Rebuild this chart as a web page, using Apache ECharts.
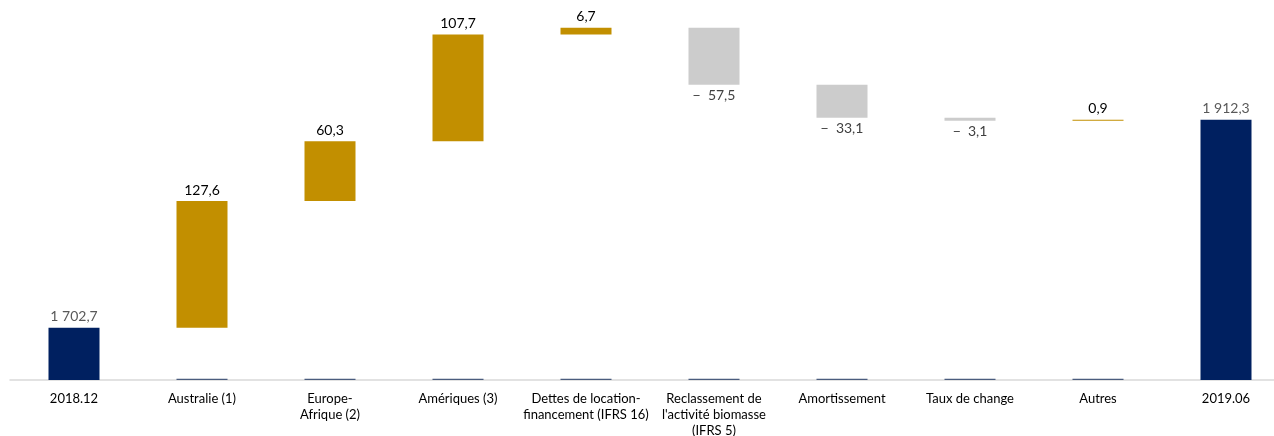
<!DOCTYPE html>
<html>
<head>
<meta charset="utf-8">
<script src="https://cdn.jsdelivr.net/npm/echarts@6/dist/echarts.min.js"></script>
<style>html,body{margin:0;padding:0;background:#fff;}#c{width:1274px;height:436px;}</style>
</head>
<body>
<div id="c"></div>
<script>
const categories = ['2018.12', 'Australie (1)', 'Europe-\nAfrique (2)', 'Amériques (3)',
  'Dettes de location-\nfinancement (IFRS 16)', "Reclassement de\nl'activité biomasse\n(IFRS 5)",
  'Amortissement', 'Taux de change', 'Autres', '2019.06'];
const startValue = 1702.7;
const endValue = 1912.3;
const changes = [127.6, 60.3, 107.7, 6.7, -57.5, -33.1, -3.1, 0.9];
const AXIS_MIN = 1650;
const AXIS_MAX = 2030;
const STUB = 1.3;

const NAVY = '#002060', GOLD = '#C28F00', GREY = '#CCCCCC';
const FONT = 'Lato';

function fmt(v) {
  const a = Math.abs(v);
  let s = a.toFixed(1).replace('.', ',');
  const parts = s.split(',');
  parts[0] = parts[0].replace(/\B(?=(\d{3})+(?!\d))/g, ' ');
  s = parts.join(',');
  return v < 0 ? '\u2212  ' + s : s;
}

const baseData = [], visData = [], stubData = [];
baseData.push(0);
visData.push({ value: startValue, itemStyle: { color: NAVY },
  label: { show: true, position: 'top', color: '#595959', formatter: () => fmt(startValue) } });
stubData.push('-');
let run = startValue;
changes.forEach(d => {
  const next = run + d;
  baseData.push(Math.min(run, next));
  visData.push({ value: Math.abs(d), itemStyle: { color: d >= 0 ? GOLD : GREY },
    label: { show: true, position: d >= 0 ? 'top' : 'bottom', color: d >= 0 ? '#000000' : '#404040',
      formatter: () => fmt(d) } });
  stubData.push(AXIS_MIN + STUB);
  run = next;
});
baseData.push(0);
visData.push({ value: endValue, itemStyle: { color: NAVY },
  label: { show: true, position: 'top', color: '#595959', formatter: () => fmt(endValue) } });
stubData.push('-');

const chart = echarts.init(document.getElementById('c'), null, { renderer: 'canvas' });
chart.setOption({
  animation: false,
  grid: { left: 10, top: 3, right: -16, bottom: 56, containLabel: false, outerBoundsMode: 'none' },
  xAxis: {
    type: 'category', data: categories,
    axisLine: { lineStyle: { color: '#D9D9D9', width: 1.5 } },
    axisTick: { show: false },
    axisLabel: { interval: 0, color: '#000000', fontFamily: FONT, fontSize: 13, lineHeight: 16, margin: 11 }
  },
  yAxis: { type: 'value', min: AXIS_MIN, max: AXIS_MAX, show: false, splitLine: { show: false } },
  series: [
    { type: 'bar', stack: 'w', data: baseData, barWidth: 51, barGap: '-100%',
      itemStyle: { color: 'transparent' }, silent: true, z: 2 },
    { type: 'bar', stack: 'w', data: visData, barWidth: 51, barGap: '-100%', z: 3,
      label: { show: true, fontFamily: FONT, fontSize: 14, distance: 4 } },
    { type: 'bar', data: stubData, barWidth: 51, barGap: '-100%', z: 4,
      itemStyle: { color: '#4A5C7E' } }
  ]
});
</script>
</body>
</html>
